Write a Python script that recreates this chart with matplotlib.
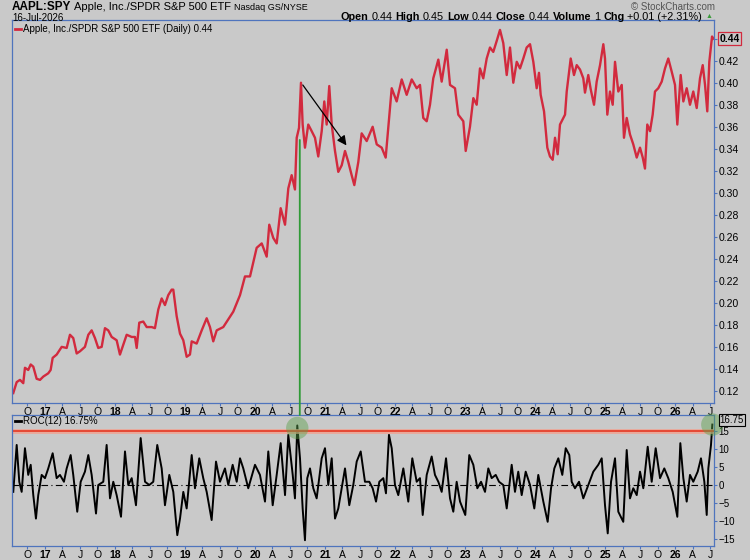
import matplotlib
matplotlib.use('Agg')
import matplotlib.pyplot as plt
from matplotlib.patches import ConnectionPatch
from matplotlib.lines import Line2D

plt.rcParams['font.family'] = ['Liberation Sans', 'DejaVu Sans']

# AAPL:SPY ratio (decimal years)
price_t = [2016.547, 2016.596, 2016.643, 2016.690, 2016.714, 2016.761, 2016.796, 2016.833, 2016.881, 2016.929,
           2016.976, 2017.047, 2017.081, 2017.110, 2017.167, 2017.239, 2017.310, 2017.357, 2017.404, 2017.453,
           2017.500, 2017.571, 2017.619, 2017.667, 2017.714, 2017.761, 2017.810, 2017.857, 2017.904, 2017.953,
           2018.024, 2018.071, 2018.119, 2018.167, 2018.239, 2018.286, 2018.310, 2018.347, 2018.404, 2018.453,
           2018.524, 2018.571, 2018.619, 2018.667, 2018.714, 2018.761, 2018.810, 2018.833, 2018.881, 2018.929,
           2018.976, 2019.024, 2019.071, 2019.096, 2019.167, 2019.239, 2019.310, 2019.357, 2019.404, 2019.453,
           2019.547, 2019.619, 2019.690, 2019.786, 2019.857, 2019.929, 2020.024, 2020.096, 2020.167, 2020.204,
           2020.261, 2020.310, 2020.367, 2020.429, 2020.476, 2020.524, 2020.571, 2020.596, 2020.629, 2020.657,
           2020.681, 2020.714, 2020.761, 2020.810, 2020.857, 2020.904, 2020.953, 2020.990, 2021.024, 2021.061,
           2021.096, 2021.143, 2021.190, 2021.239, 2021.286, 2021.333, 2021.381, 2021.419, 2021.476, 2021.524,
           2021.596, 2021.681, 2021.739, 2021.810, 2021.867, 2021.904, 2021.953, 2022.024, 2022.096, 2022.167,
           2022.239, 2022.310, 2022.357, 2022.404, 2022.453, 2022.500, 2022.547, 2022.619, 2022.667, 2022.739,
           2022.786, 2022.857, 2022.904, 2022.976, 2023.010, 2023.071, 2023.119, 2023.167, 2023.214, 2023.261,
           2023.310, 2023.357, 2023.404, 2023.453, 2023.500, 2023.547, 2023.596, 2023.643, 2023.690, 2023.739,
           2023.786, 2023.833, 2023.881, 2023.929, 2023.976, 2024.024, 2024.057, 2024.081, 2024.129, 2024.176,
           2024.214, 2024.253, 2024.286, 2024.324, 2024.357, 2024.429, 2024.453, 2024.510, 2024.557, 2024.596,
           2024.643, 2024.690, 2024.714, 2024.761, 2024.796, 2024.843, 2024.881, 2024.929, 2024.976, 2025.000,
           2025.033, 2025.071, 2025.110, 2025.143, 2025.190, 2025.239, 2025.271, 2025.310, 2025.357, 2025.404,
           2025.453, 2025.500, 2025.539, 2025.571, 2025.604, 2025.643, 2025.681, 2025.714, 2025.761, 2025.810,
           2025.857, 2025.904, 2025.953, 2026.000, 2026.033, 2026.081, 2026.119, 2026.167, 2026.214, 2026.261,
           2026.310, 2026.357, 2026.396, 2026.429, 2026.461, 2026.490, 2026.529, 2026.547]
price = [0.118, 0.128, 0.130, 0.127, 0.141, 0.139, 0.144, 0.142, 0.131, 0.130,
         0.133, 0.136, 0.139, 0.150, 0.153, 0.160, 0.159, 0.171, 0.168, 0.154,
         0.156, 0.160, 0.171, 0.175, 0.168, 0.159, 0.160, 0.177, 0.175, 0.169,
         0.166, 0.153, 0.162, 0.171, 0.169, 0.169, 0.159, 0.182, 0.183, 0.178,
         0.178, 0.177, 0.194, 0.204, 0.198, 0.207, 0.212, 0.212, 0.188, 0.172,
         0.166, 0.151, 0.153, 0.165, 0.163, 0.175, 0.186, 0.178, 0.165, 0.175,
         0.178, 0.185, 0.192, 0.207, 0.224, 0.224, 0.250, 0.254, 0.242, 0.271,
         0.259, 0.254, 0.286, 0.271, 0.304, 0.316, 0.303, 0.350, 0.359, 0.400,
         0.362, 0.341, 0.362, 0.356, 0.350, 0.333, 0.356, 0.383, 0.362, 0.397,
         0.362, 0.338, 0.319, 0.325, 0.338, 0.328, 0.316, 0.307, 0.328, 0.354,
         0.347, 0.360, 0.344, 0.341, 0.332, 0.359, 0.395, 0.383, 0.403, 0.389,
         0.403, 0.395, 0.398, 0.368, 0.365, 0.380, 0.404, 0.421, 0.401, 0.430,
         0.398, 0.395, 0.371, 0.365, 0.338, 0.360, 0.386, 0.380, 0.413, 0.404,
         0.422, 0.432, 0.428, 0.438, 0.448, 0.436, 0.407, 0.432, 0.400, 0.419,
         0.413, 0.422, 0.432, 0.435, 0.419, 0.395, 0.409, 0.389, 0.374, 0.341,
         0.333, 0.330, 0.350, 0.335, 0.362, 0.371, 0.392, 0.422, 0.407, 0.416,
         0.412, 0.404, 0.391, 0.407, 0.394, 0.380, 0.401, 0.416, 0.435, 0.422,
         0.371, 0.392, 0.380, 0.419, 0.392, 0.398, 0.350, 0.368, 0.353, 0.344,
         0.332, 0.341, 0.332, 0.322, 0.362, 0.356, 0.371, 0.392, 0.395, 0.401,
         0.413, 0.422, 0.410, 0.398, 0.362, 0.407, 0.383, 0.395, 0.380, 0.392,
         0.377, 0.404, 0.416, 0.398, 0.374, 0.419, 0.442, 0.440]

# ROC(12) in percent
roc_t = [2016.547, 2016.596, 2016.633, 2016.667, 2016.714, 2016.761, 2016.796, 2016.833, 2016.871, 2016.904,
         2016.953, 2017.000, 2017.047, 2017.110, 2017.167, 2017.214, 2017.271, 2017.310, 2017.367, 2017.404,
         2017.461, 2017.510, 2017.571, 2017.619, 2017.667, 2017.729, 2017.761, 2017.833, 2017.881, 2017.929,
         2017.976, 2018.024, 2018.086, 2018.143, 2018.190, 2018.239, 2018.300, 2018.367, 2018.429, 2018.490,
         2018.547, 2018.604, 2018.667, 2018.714, 2018.776, 2018.833, 2018.890, 2018.929, 2018.976, 2019.024,
         2019.096, 2019.143, 2019.204, 2019.261, 2019.310, 2019.381, 2019.443, 2019.500, 2019.571, 2019.619,
         2019.681, 2019.739, 2019.786, 2019.833, 2019.904, 2020.000, 2020.071, 2020.143, 2020.190, 2020.253,
         2020.310, 2020.367, 2020.429, 2020.476, 2020.539, 2020.571, 2020.604, 2020.643, 2020.681, 2020.714,
         2020.747, 2020.786, 2020.833, 2020.881, 2020.953, 2021.000, 2021.047, 2021.096, 2021.143, 2021.190,
         2021.239, 2021.286, 2021.347, 2021.404, 2021.453, 2021.510, 2021.571, 2021.633, 2021.681, 2021.729,
         2021.776, 2021.833, 2021.871, 2021.914, 2021.953, 2022.000, 2022.047, 2022.119, 2022.190, 2022.247,
         2022.310, 2022.357, 2022.396, 2022.453, 2022.524, 2022.571, 2022.619, 2022.667, 2022.729, 2022.786,
         2022.833, 2022.881, 2022.929, 2023.004, 2023.061, 2023.119, 2023.176, 2023.229, 2023.286, 2023.333,
         2023.381, 2023.439, 2023.486, 2023.547, 2023.596, 2023.667, 2023.714, 2023.761, 2023.810, 2023.867,
         2023.929, 2023.990, 2024.047, 2024.119, 2024.181, 2024.229, 2024.276, 2024.333, 2024.390, 2024.439,
         2024.490, 2024.524, 2024.571, 2024.629, 2024.690, 2024.761, 2024.833, 2024.904, 2024.953, 2025.000,
         2025.039, 2025.086, 2025.143, 2025.190, 2025.261, 2025.310, 2025.357, 2025.404, 2025.453, 2025.500,
         2025.547, 2025.610, 2025.667, 2025.724, 2025.786, 2025.847, 2025.904, 2025.967, 2026.033, 2026.076,
         2026.119, 2026.167, 2026.214, 2026.261, 2026.324, 2026.371, 2026.419, 2026.453, 2026.476, 2026.514,
         2026.533]
roc = [-1.9, 11.1, 0.9, -1.9, 10.2, 2.8, 5.6, -2.8, -9.3, -2.8,
       2.8, 1.9, 4.6, 8.8, 1.9, 2.8, 0.9, 4.6, 8.3, 2.8,
       -7.4, 0.9, 3.7, 8.3, 2.8, -7.9, 0.0, 0.9, 11.1, -3.7,
       0.9, -2.8, -8.8, 9.3, 0.0, 1.9, -5.6, 13.0, 0.9, 0.0,
       0.9, 11.1, 4.6, -5.6, 2.8, -1.9, -13.9, -9.3, -1.9, -6.5,
       8.3, -0.9, 7.4, 1.9, -1.9, -9.7, 6.5, 0.9, 4.6, 0.0,
       5.6, 0.9, 7.4, 4.6, -0.9, 5.6, 2.8, -4.6, 9.3, -5.6,
       2.8, 11.6, -2.8, 13.9, 2.8, -3.7, 16.5, 7.4, -6.5, -15.3,
       1.9, 4.6, -0.9, -3.7, 7.4, 10.2, 0.0, 7.4, -9.3, -6.5,
       -0.9, 4.6, -5.6, 0.0, 6.5, 9.3, 0.9, 0.9, -0.9, -4.6,
       0.9, 1.9, -2.3, 13.9, 10.2, 0.0, -2.8, 4.6, -4.6, 7.4,
       0.9, 1.9, -8.3, 2.8, 7.9, 2.8, 0.9, -1.9, 7.4, -3.7,
       -7.4, 0.9, -4.6, -8.3, 8.3, 5.6, -0.9, 0.9, -1.9, 4.6,
       1.9, 2.8, 0.9, 0.0, -6.5, 5.6, -1.9, 3.7, -2.8, 3.7,
       0.0, -6.5, 2.8, -4.6, -10.2, -0.9, 4.6, 7.4, 2.8, 10.2,
       8.3, 0.9, -0.9, 0.9, -3.7, 0.0, 3.7, 5.6, 7.4, -5.6,
       -13.4, 0.9, 7.4, -7.4, -10.2, 9.7, -3.7, -0.9, -2.8, 3.7,
       -0.9, 10.6, 0.9, 10.2, 1.9, 4.6, 1.9, -1.9, -8.8, 11.6,
       1.9, -4.6, 2.8, 0.9, 3.7, 7.4, 0.9, -8.3, 4.6, 11.1,
       16.75]

price_ticks = [0.12, 0.14, 0.16, 0.18, 0.20, 0.22, 0.24, 0.26, 0.28, 0.30, 0.32, 0.34, 0.36, 0.38, 0.40, 0.42, 0.44]
roc_ticks = [-15, -10, -5, 0, 5, 10, 15]
quarters = [2016.75 + 0.25 * i for i in range(40)]
roc_signal = 15
arrow_from = (2020.66, 0.400)
arrow_to = (2021.33, 0.341)
marker_date = 2020.64

BG = '#c9c9c9'
FRAME = '#4f74bd'
W, H = 750, 560


def fx(px):
    return px / W


def fy(py):
    return 1 - py / H


fig = plt.figure(figsize=(7.5, 5.6), dpi=100, facecolor=BG)
ax1 = fig.add_axes([fx(12), fy(403), (714 - 12) / W, (403 - 20) / H])
ax2 = fig.add_axes([fx(12), fy(546), (714 - 12) / W, (546 - 415) / H])

qlabels = []
for q in quarters:
    k = round((q % 1) * 4) % 4
    qlabels.append(str(int(round(q)) % 100) if k == 0 else ['', 'A', 'J', 'O'][k])

for ax in (ax1, ax2):
    ax.set_facecolor(BG)
    for s in ax.spines.values():
        s.set_color(FRAME)
        s.set_linewidth(0.9)
    ax.yaxis.tick_right()
    ax.tick_params(axis='y', length=2, pad=1, labelsize=7.5, color=FRAME)
    ax.tick_params(axis='x', length=2, pad=1, labelsize=7.5, color=FRAME)
    ax.set_xlim(2016.529, 2026.557)
    ax.set_xticks(quarters)
    ax.set_xticklabels(qlabels)
    for lab, q in zip(ax.get_xticklabels(), quarters):
        if round((q % 1) * 4) % 4 == 0:
            lab.set_fontweight('bold')

# price panel
ax1.plot(price_t, price, color='#d22a3e', lw=1.7)
ax1.set_ylim(0.109, 0.457)
ax1.set_yticks(price_ticks)
# top tick label sits under the last-value box, as on the original
ax1.set_yticklabels(['%.2f' % v if v < 0.43 else '' for v in price_ticks])
ax1.annotate('', xy=arrow_to, xytext=arrow_from,
             arrowprops=dict(arrowstyle='-|>', color='black', lw=0.9, mutation_scale=14))
ax1.text(1.008, price[-1], '%.2f' % price[-1], transform=ax1.get_yaxis_transform(),
         fontsize=7.5, fontweight='bold', va='center', ha='left', zorder=10,
         bbox=dict(boxstyle='square,pad=0.15', fc=BG, ec='#d22a3e', lw=0.9))

# ROC panel
ax2.plot(roc_t, roc, color='black', lw=1.4)
ax2.axhline(0, color='black', lw=0.8, ls=(0, (6, 3, 1, 3)))
ax2.axhline(roc_signal, color='#f2a08f', lw=3.5, alpha=0.8)
ax2.axhline(roc_signal, color='#e5402c', lw=1.3)
ax2.set_ylim(-16.9, 19.4)
ax2.set_yticks(roc_ticks)
ax2.tick_params(axis='y', labelsize=7)
ax2.scatter([roc_t[76], roc_t[-1]], [15.8, roc[-1]], s=260, color='#5aa04a', alpha=0.45,
            edgecolors='none', clip_on=False, zorder=5)
ax2.annotate('%.2f' % roc[-1], xy=(1.008, roc[-1]), xycoords=ax2.get_yaxis_transform(),
             xytext=(0, 3), textcoords='offset points',
             fontsize=7, va='center', ha='left', zorder=10,
             bbox=dict(boxstyle='square,pad=0.1', fc=BG, ec='black', lw=0.8))

# green vertical marker line from price panel down to the ROC panel
con = ConnectionPatch(xyA=(marker_date, 0.348), coordsA='data', axesA=ax1,
                      xyB=(marker_date, 19.4), coordsB='data', axesB=ax2,
                      color='#2f9a36', lw=1.3)
fig.add_artist(con)

# legends
fig.add_artist(Line2D([fx(15), fx(21)], [fy(29), fy(29)], color='#d22a3e', lw=2))
fig.text(fx(23), fy(29), 'Apple, Inc./SPDR S&P 500 ETF (Daily) 0.44', fontsize=7, va='center')
fig.add_artist(Line2D([fx(15), fx(21)], [fy(421), fy(421)], color='black', lw=2))
fig.text(fx(23), fy(421), 'ROC(12) 16.75%', fontsize=7, va='center')


def text_row(pieces, x, y, align='left', gap=3):
    r = fig.canvas.get_renderer()
    objs = [fig.text(0, fy(y), s, va='center', **kw) for s, kw in pieces]
    widths = [t.get_window_extent(r).width for t in objs]
    total = sum(widths) + gap * (len(objs) - 1)
    cur = x - total if align == 'right' else x
    for t, w in zip(objs, widths):
        t.set_x(fx(cur))
        cur += w + gap


B = dict(fontsize=7.8, fontweight='bold')
N = dict(fontsize=7.8)
text_row([('AAPL:SPY', dict(fontsize=8.5, fontweight='bold')),
          ('Apple, Inc./SPDR S&P 500 ETF', dict(fontsize=8)),
          ('Nasdaq GS/NYSE', dict(fontsize=6.5))], 12, 7)
fig.text(fx(12), fy(18), '16-Jul-2026', fontsize=7, va='center')
text_row([('Open', B), ('0.44', N), ('High', B), ('0.45', N), ('Low', B), ('0.44', N),
          ('Close', B), ('0.44', N), ('Volume', B), ('1', N), ('Chg', B),
          ('+0.01 (+2.31%)', N), ('▲', dict(fontsize=5, color='#3a9a3a'))], 712, 17, align='right')
fig.text(fx(715), fy(7), '© StockCharts.com', fontsize=7, color='#555555', va='center', ha='right')

fig.savefig('out.png', dpi=100, facecolor=BG)
